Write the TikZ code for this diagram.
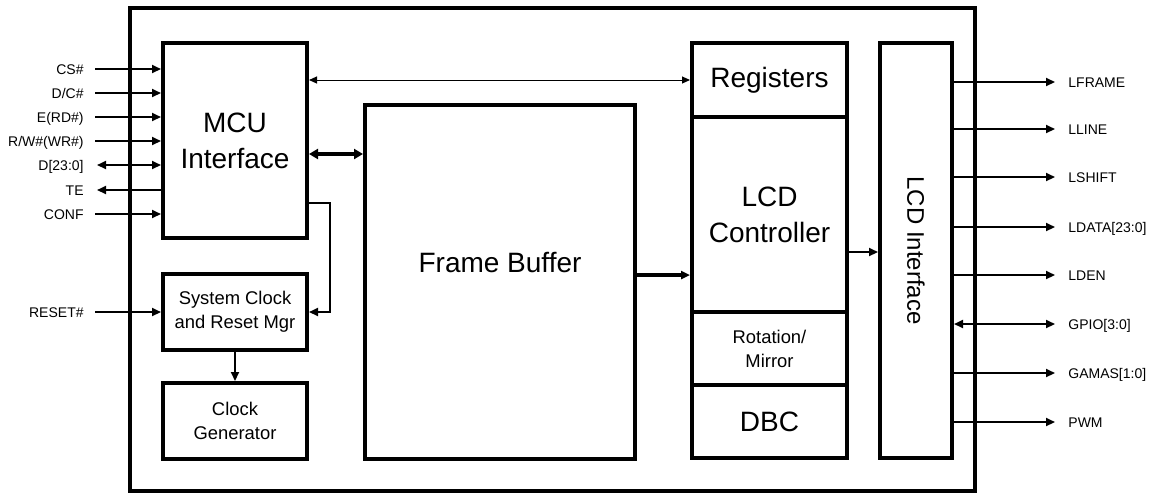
\documentclass[tikz,border=0pt]{standalone}
\usepackage{fontspec}
\setmainfont{Liberation Sans}
\usetikzlibrary{arrows.meta,positioning}

\begin{document}
\begin{tikzpicture}[x=0.5pt, y=-0.5pt,
  blk/.style={draw, line width=2.2pt, inner sep=0pt, outer sep=0pt, align=center, font=\fontsize{14}{18}\selectfont},
  small/.style={blk, font=\fontsize{9.2}{12}\selectfont},
  sig/.style={inner xsep=5.5pt, inner ysep=0pt, text height=5pt, text depth=0pt, font=\fontsize{7}{8}\selectfont},
  arr/.style={-{Triangle[length=4.5pt,width=4pt]}, line width=1pt, shorten >=1pt},
  arr2/.style={arr, {Triangle[length=4.5pt,width=4pt]}-{Triangle[length=4.5pt,width=4pt]}, shorten <=1pt},
  bus/.style={{Triangle[length=4.5pt,width=5pt]}-{Triangle[length=4.5pt,width=5pt]}, line width=1.6pt, shorten >=1pt, shorten <=1pt},
  link/.style={{Triangle[length=4pt,width=3.5pt]}-{Triangle[length=4pt,width=3.5pt]}, line width=0.5pt, shorten >=1pt, shorten <=1pt}
]
\useasboundingbox (0,0) rectangle (1155,494);

\node[draw, line width=1.8pt, inner sep=0pt, minimum width=422.5pt, minimum height=241.5pt] (chip) at (552.5,249.5) {};

% left column
\node[blk, minimum width=72pt, minimum height=97.5pt] (mcu) at (235,140.5) {MCU\\Interface};
\node[small, minimum width=72pt, minimum height=38pt] (sys) at (235,312) {System Clock\\and Reset Mgr};
\node[small, minimum width=72pt, minimum height=38pt, below=16.5pt of sys] (clk) {Clock\\Generator};

\node[blk, minimum width=135pt, minimum height=177pt, label={[font=\fontsize{14}{18}\selectfont, yshift=10pt]center:Frame Buffer}] (fb) at (500,282) {};

% controller stack
\node[blk, minimum width=77.5pt, minimum height=37pt] (reg) at (769.5,80) {Registers};
\node[blk, minimum width=77.5pt, minimum height=97.5pt, below=0pt of reg] (lcdc) {LCD\\Controller};
\node[small, minimum width=77.5pt, minimum height=36.5pt, below=0pt of lcdc] (rot) {Rotation/\\Mirror};
\node[blk, minimum width=77.5pt, minimum height=36.5pt, below=0pt of rot] (dbc) {DBC};

\node[blk, minimum width=36pt, minimum height=207.5pt, label={[rotate=-90, font=\fontsize{12}{14}\selectfont]center:LCD Interface}] (lcdi) at (916,250.5) {};

% inner connections
\draw[link] (mcu.east |- reg.west) -- (reg.west);
\draw[bus] ([yshift=-6.75pt]mcu.east) -- ([yshift=-6.75pt]mcu.east -| fb.west);
\draw[arr] ([yshift=-31.25pt]mcu.east) -| ++(23,0) |- (sys.east);
\draw[arr] (sys.south) -- (clk.north);
\draw[arr, line width=1.6pt] ([yshift=3.5pt]fb.east) -- ([yshift=3.5pt]fb.east -| lcdc.west);
\draw[arr] ([yshift=-18.75pt]lcdc.east) -- ([yshift=-18.75pt]lcdc.east -| lcdi.west);

% host side signals
\node[sig, anchor=east] (cs) at (95,69) {CS\#};
\node[sig, anchor=east] (dc) at (95,93) {D/C\#};
\node[sig, anchor=east] (rd) at (95,117) {E(RD\#)};
\node[sig, anchor=east] (wr) at (95,141) {R/W\#(WR\#)};
\node[sig, anchor=east] (dbus) at (95,165) {D[23:0]};
\node[sig, anchor=east] (te) at (95,190) {TE};
\node[sig, anchor=east] (conf) at (95,214) {CONF};
\node[sig, anchor=east] (rst) at (95,312) {RESET\#};

\draw[arr] (cs.east) -- (mcu.west |- cs.east);
\draw[arr] (dc.east) -- (mcu.west |- dc.east);
\draw[arr] (rd.east) -- (mcu.west |- rd.east);
\draw[arr] (wr.east) -- (mcu.west |- wr.east);
\draw[arr2] (dbus.east) -- (mcu.west |- dbus.east);
\draw[arr] (mcu.west |- te.east) -- (te.east);
\draw[arr] (conf.east) -- (mcu.west |- conf.east);
\draw[arr] (rst.east) -- (sys.west |- rst.east);

% panel side signals
\node[sig, anchor=west] (lframe) at (1057,82) {LFRAME};
\node[sig, anchor=west] (lline) at (1057,129) {LLINE};
\node[sig, anchor=west] (lshift) at (1057,177) {LSHIFT};
\node[sig, anchor=west] (ldata) at (1057,227) {LDATA[23:0]};
\node[sig, anchor=west] (lden) at (1057,275) {LDEN};
\node[sig, anchor=west] (gpio) at (1057,324) {GPIO[3:0]};
\node[sig, anchor=west] (gamas) at (1057,373) {GAMAS[1:0]};
\node[sig, anchor=west] (pwm) at (1057,422) {PWM};

\draw[arr] (lcdi.east |- lframe.west) -- (lframe.west);
\draw[arr] (lcdi.east |- lline.west) -- (lline.west);
\draw[arr] (lcdi.east |- lshift.west) -- (lshift.west);
\draw[arr] (lcdi.east |- ldata.west) -- (ldata.west);
\draw[arr] (lcdi.east |- lden.west) -- (lden.west);
\draw[arr2] (lcdi.east |- gpio.west) -- (gpio.west);
\draw[arr] (lcdi.east |- gamas.west) -- (gamas.west);
\draw[arr] (lcdi.east |- pwm.west) -- (pwm.west);

\end{tikzpicture}
\end{document}
